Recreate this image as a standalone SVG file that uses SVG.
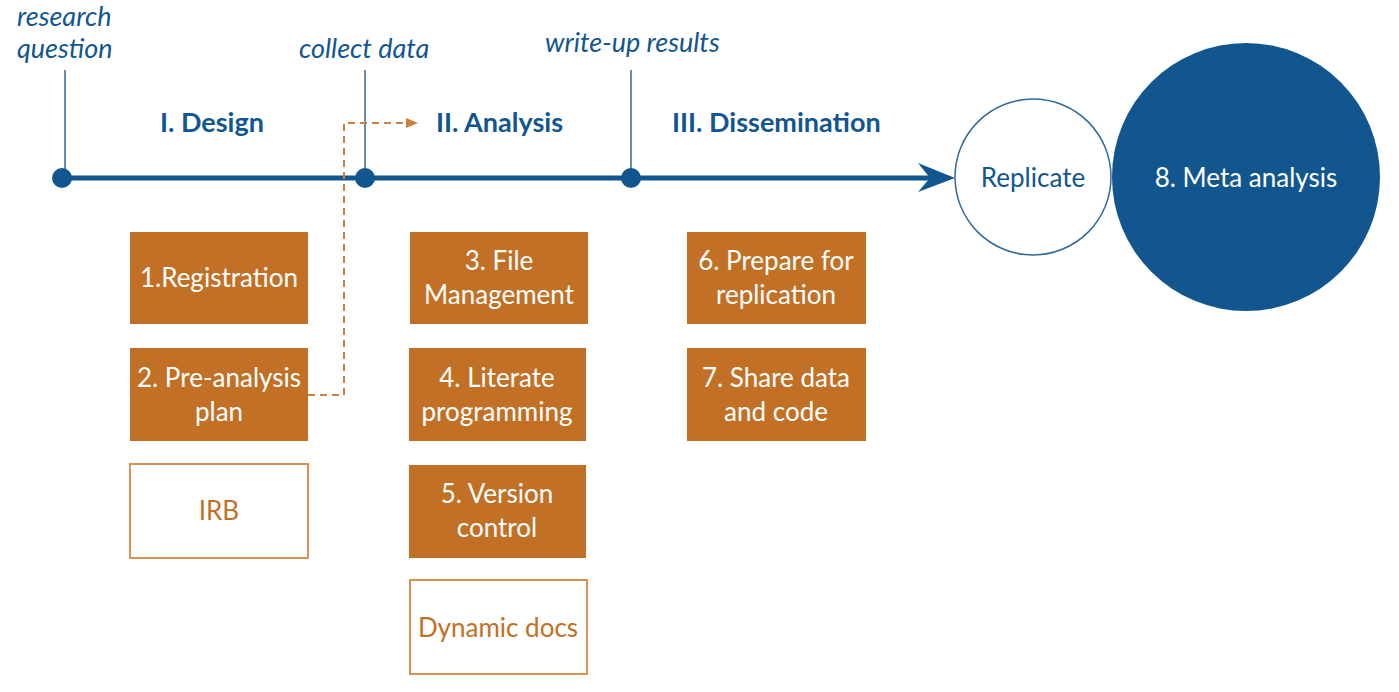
<svg xmlns="http://www.w3.org/2000/svg" width="1399" height="692" viewBox="0 0 1399 692">
<style>
text{font-family:Lato,"Noto Sans","Liberation Sans",sans-serif;font-size:26px}
.ann{fill:#12568f;font-style:italic;font-size:27px}
.phase{fill:#12568f;font-weight:bold;font-size:27px}
.fill rect{fill:#c27026}
.fill text{fill:#fff;text-anchor:middle}
.out rect{fill:#fff;stroke:#d9924f;stroke-width:2}
.out text{fill:#c27026;text-anchor:middle}
.tick{stroke:#2f6a9c;stroke-width:1.5}
.dot{fill:#12568f}
</style>
<defs>
<marker id="oa" markerWidth="12" markerHeight="10" refX="11" refY="5" orient="auto" markerUnits="userSpaceOnUse">
<path d="M0,0 L12,5 L0,10 Z" fill="#d0803a"/>
</marker>
</defs>
<g id="labels">
<text class="ann" x="17" y="26">research</text>
<text class="ann" x="17" y="58">question</text>
<text class="ann" x="299" y="58">collect data</text>
<text class="ann" x="545" y="52">write-up results</text>
<text class="phase" x="160" y="132">I. Design</text>
<text class="phase" x="436" y="132">II. Analysis</text>
<text class="phase" x="672" y="132">III. Dissemination</text>
</g>
<g id="connectors">
<line class="tick" x1="65" y1="70" x2="65" y2="178"/>
<line class="tick" x1="365" y1="70" x2="365" y2="178"/>
<line class="tick" x1="631" y1="70" x2="631" y2="178"/>
<line x1="62" y1="178" x2="945" y2="178" stroke="#12568f" stroke-width="5"/>
<path d="M918,163 L955,178 L918,192 L930,178 Z" fill="#12568f"/>
<circle class="dot" cx="62" cy="178" r="10"/>
<circle class="dot" cx="365" cy="178" r="10"/>
<circle class="dot" cx="631" cy="178" r="10"/>
<path d="M308,395 H344 V123 H417" fill="none" stroke="#d0803a" stroke-width="2" stroke-dasharray="7,5" marker-end="url(#oa)"/>
</g>
<g id="replicate">
<circle cx="1033" cy="177" r="78" fill="#fff" stroke="#2f6a9c" stroke-width="1.5"/>
<text x="1033" y="187" text-anchor="middle" fill="#12568f">Replicate</text>
</g>
<g id="meta">
<circle cx="1246" cy="177" r="134" fill="#12568f"/>
<text x="1246" y="187" text-anchor="middle" fill="#fff">8. Meta analysis</text>
</g>
<g id="n1" class="fill"><rect x="130" y="232" width="178" height="92"/><text x="219" y="287">1.Registration</text></g>
<g id="n2" class="fill"><rect x="130" y="348" width="178" height="93"/><text x="219" y="387">2. Pre-analysis</text><text x="219" y="421">plan</text></g>
<g id="irb" class="out"><rect x="130" y="464" width="178" height="94"/><text x="219" y="520">IRB</text></g>
<g id="n3" class="fill"><rect x="410" y="232" width="178" height="92"/><text x="499" y="270">3. File</text><text x="499" y="304">Management</text></g>
<g id="n4" class="fill"><rect x="409" y="348" width="177" height="93"/><text x="497" y="387">4. Literate</text><text x="497" y="421">programming</text></g>
<g id="n5" class="fill"><rect x="409" y="465" width="177" height="93"/><text x="497" y="503">5. Version</text><text x="497" y="537">control</text></g>
<g id="dyn" class="out"><rect x="410" y="580" width="177" height="94"/><text x="498" y="637">Dynamic docs</text></g>
<g id="n6" class="fill"><rect x="687" y="232" width="179" height="92"/><text x="776" y="270">6. Prepare for</text><text x="776" y="304">replication</text></g>
<g id="n7" class="fill"><rect x="687" y="348" width="179" height="93"/><text x="776" y="387">7. Share data</text><text x="776" y="421">and code</text></g>
</svg>
